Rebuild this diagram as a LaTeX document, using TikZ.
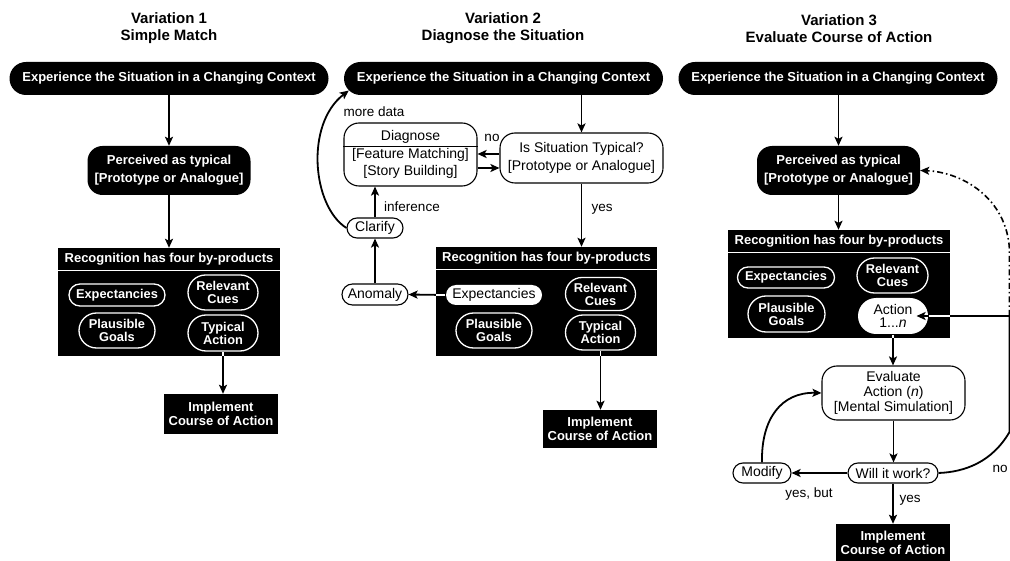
\documentclass[tikz,border=0pt]{standalone}
\usepackage{fontspec}
\setmainfont{Liberation Sans}
\usetikzlibrary{arrows.meta,calc,shapes.misc}
\tikzset{
 arr/.style={-{Stealth[length=9pt,width=8pt,inset=2pt]}, line width=1.8pt},
 pill/.style={rounded rectangle, fill=black, text=white, minimum width=319pt, minimum height=33pt, inner sep=0pt, font=\bfseries\fontsize{13}{15}\selectfont},
 bround/.style={rectangle, rounded corners=15pt, fill=black, text=white, align=center, inner sep=0pt, font=\bfseries\fontsize{13}{18}\selectfont},
 wround/.style={rectangle, rounded corners=15pt, fill=white, draw=black, line width=1.1pt, align=center, inner sep=0pt, font=\fontsize{14}{18}\selectfont},
 recbox/.style={rectangle, fill=black, inner sep=0pt},
 rechead/.style={text=white, inner sep=0pt, font=\bfseries\fontsize{13}{15}\selectfont},
 woval/.style={rounded rectangle, draw=white, line width=1.3pt, text=white, align=center, inner sep=0pt, font=\bfseries\fontsize{12.8}{13}\selectfont},
 foval/.style={rounded rectangle, fill=white, draw=black, line width=1.1pt, align=center, inner sep=0pt, font=\fontsize{14}{13}\selectfont},
 impl/.style={rectangle, fill=black, text=white, align=center, inner sep=0pt, minimum width=114pt, minimum height=38pt, font=\bfseries\fontsize{13}{14}\selectfont},
 lbl/.style={inner sep=0pt, font=\fontsize{13.5}{15}\selectfont},
 title/.style={align=center, inner sep=0pt, font=\bfseries\fontsize{15}{17}\selectfont},
 sepw/.style={white, line width=1.6pt},
}
\begin{document}
\begin{tikzpicture}[x=1pt,y=-1pt]
\fill[white] (0,0) rectangle (1010,561);
\useasboundingbox (0,0) rectangle (1010,561);

%% ---------- Variation 1 ----------
\node[title] (t1) at (169,28.5) {Variation 1\\Simple Match};
\node[pill] (p1) at (169,78.5) {Experience the Situation in a Changing Context};
\node[bround, minimum width=163pt, minimum height=49pt] (per1) at (169,170.5) {Perceived as typical\\{[}Prototype or Analogue{]}};
\node[recbox, minimum width=222pt, minimum height=108pt] (rec1) at (169,302) {};
\node[rechead] (rh1) at (169,259) {Recognition has four by-products};
\draw[sepw] (rec1.west |- 0,270.5) -- (rec1.east |- 0,270.5);
\node[woval, minimum width=96pt, minimum height=22pt] (ex1) at (117,295) {Expectancies};
\node[woval, minimum width=70pt, minimum height=35pt] (rc1) at (223,292.5) {Relevant\\Cues};
\node[woval, minimum width=76pt, minimum height=35pt] (pg1) at (117,330.5) {Plausible\\Goals};
\node[woval, minimum width=70pt, minimum height=36pt] (ta1) at (223,333) {Typical\\Action};
\node[impl, minimum height=40pt] (im1) at (221,414) {Implement\\Course of Action};
\draw[arr] (p1.south) -- (per1.north);
\draw[arr] (per1.south) -- (rec1.north);
\draw[arr] (ta1.south) -- (ta1.south |- im1.north);
\draw[sepw] (ta1.south) -- (ta1.south |- rec1.south);

%% ---------- Variation 2 ----------
\node[title] (t2) at (503,28.5) {Variation 2\\Diagnose the Situation};
\node[pill] (p2) at (503.5,78.5) {Experience the Situation in a Changing Context};
\node[wround, minimum width=163pt, minimum height=50pt] (is) at (581.5,158) {Is Situation Typical?\\{[}Prototype or Analogue{]}};
\node[wround, minimum width=133pt, minimum height=63pt] (dg) at (410.5,154.5) {};
\node[lbl, font=\fontsize{14}{15}\selectfont] (dgt) at (410.5,137) {Diagnose};
\draw[line width=0.9pt] (dg.west |- 0,146) -- (dg.east |- 0,146);
\node[lbl, align=center, font=\fontsize{14}{17}\selectfont] (dgb) at (410.5,163) {{[}Feature Matching{]}\\{[}Story Building{]}};
\node[foval, minimum width=56pt, minimum height=20pt] (cl) at (375,228) {Clarify};
\node[foval, minimum width=66pt, minimum height=21pt] (an) at (375,294.5) {Anomaly};
\node[recbox, minimum width=221pt, minimum height=109pt] (rec2) at (546.5,301.5) {};
\node[rechead] (rh2) at (546.5,258) {Recognition has four by-products};
\draw[sepw] (rec2.west |- 0,269.5) -- (rec2.east |- 0,269.5);
\node[foval, draw=none, minimum width=96pt, minimum height=20pt] (ex2) at (494,295) {Expectancies};
\node[woval, minimum width=70pt, minimum height=33pt] (rc2) at (600.5,294) {Relevant\\Cues};
\node[woval, minimum width=76pt, minimum height=35pt] (pg2) at (494,330.5) {Plausible\\Goals};
\node[woval, minimum width=70pt, minimum height=35pt] (ta2) at (600.5,332.5) {Typical\\Action};
\node[impl] (im2) at (600,429) {Implement\\Course of Action};
\draw[arr] (is.north |- p2.south) -- (is.north);
\draw[arr] (is.south) -- (is.south |- rec2.north);
\node[lbl] (yes2) at (602,209) {yes};
\draw[arr] ([yshift=4pt]is.west) -- ([yshift=4pt]is.west -| dg.east);
\draw[arr] ([yshift=-10pt]is.west -| dg.east) -- ([yshift=-10pt]is.west);
\node[lbl] (no2) at (492,138) {no};
\draw[arr] (ex2.west) -- (an.east);
\draw[sepw] (ex2.west) -- (ex2.west -| rec2.west);
\draw[arr] (an.north) -- (cl.north |- an.north) -- (cl.south);
\draw[arr] (cl.north) -- (cl.north |- dg.south);
\node[lbl] (inf) at (412,207) {inference};
\draw[arr] (cl.west) .. controls (312,206) and (305,124) .. ($(p2.west)+(5,12)$);
\node[lbl] (md) at (374,112) {more data};
\draw[arr] (ta2.south) -- (ta2.south |- im2.north);
\draw[sepw] (ta2.south) -- (ta2.south |- rec2.south);

%% ---------- Variation 3 ----------
\node[title] (t3) at (839,28.5) {Variation 3\\Evaluate Course of Action};
\node[pill] (p3) at (838,78.5) {Experience the Situation in a Changing Context};
\node[bround, minimum width=163pt, minimum height=49pt] (per3) at (838.5,170.5) {Perceived as typical\\{[}Prototype or Analogue{]}};
\node[recbox, minimum width=222pt, minimum height=108pt] (rec3) at (839,284) {};
\node[rechead] (rh3) at (839,241) {Recognition has four by-products};
\draw[sepw] (rec3.west |- 0,252.5) -- (rec3.east |- 0,252.5);
\node[woval, minimum width=97pt, minimum height=21pt] (ex3) at (786,277.5) {Expectancies};
\node[woval, minimum width=71pt, minimum height=35pt] (rc3) at (892.5,275.5) {Relevant\\Cues};
\node[woval, minimum width=77pt, minimum height=36pt] (pg3) at (786.5,314) {Plausible\\Goals};
\node[foval, draw=none, minimum width=70pt, minimum height=36pt] (act) at (893,316) {Action\\1...\textit{n}};
\node[wround, minimum width=143pt, minimum height=54pt, font=\fontsize{14}{15}\selectfont] (ev) at (893.5,393) {Evaluate\\Action (\textit{n})\\{[}Mental Simulation{]}};
\node[foval, minimum width=90pt, minimum height=20pt] (will) at (893,473) {Will it work?};
\node[foval, minimum width=58pt, minimum height=20pt] (mod) at (762,473) {Modify};
\node[impl, minimum height=37pt] (im3) at (893,542.5) {Implement\\Course of Action};
\draw[arr] (p3.south -| per3.north) -- (per3.north);
\draw[arr] (per3.south) -- (per3.south |- rec3.north);
\draw[arr] (act.south) -- (act.south |- ev.north);
\draw[sepw] (act.south) -- (act.south |- rec3.south);
\draw[arr] (ev.south) -- (ev.south |- will.north);
\draw[arr] (will.west) -- (mod.east);
\node[lbl] (yb) at (809,494) {yes, but};
\draw[arr] (mod.north) .. controls (761,418) and (782,392) .. (ev.west);
\draw[arr] (will.south) -- (will.south |- im3.north);
\node[lbl] (yes3) at (910,500) {yes};
\coordinate (jn) at (act.east -| 1009.5,0);
\draw[line width=1.8pt] (will.east) .. controls (965,472) and (992,462) .. (1009.5,432) -- (jn);
\draw[arr] (jn) -- ($(act.east)+(-12,0)$);
\draw[sepw] (act.east) -- (act.east -| rec3.east);
\draw[arr, line width=1.6pt, dash pattern=on 6pt off 3pt on 1.5pt off 3pt] (jn) -- (1009.5,250) .. controls (1007,198) and (962,172) .. (per3.east);
\node[lbl] (no3) at (1000,469) {no};
\end{tikzpicture}
\end{document}
